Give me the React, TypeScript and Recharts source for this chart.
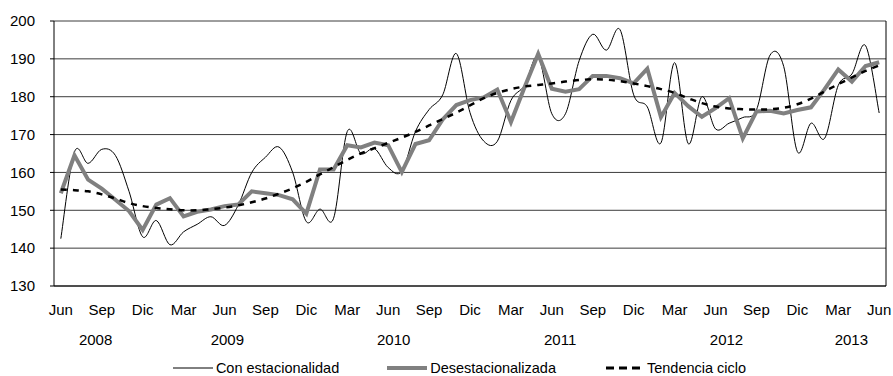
import React from "react";
import { ComposedChart, Line, XAxis, YAxis, CartesianGrid, Legend } from "recharts";

// categories: Jun 2008 .. Jun 2013
const monthNames = ["Ene", "Feb", "Mar", "Abr", "May", "Jun", "Jul", "Ago", "Sep", "Oct", "Nov", "Dic"];
const startYear = 2008;
const startMonth = 5; // Jun
const periodCount = 61;

const conEstacionalidad = [
  142.5, 165.4, 162.4, 166.1, 164.5, 155.0, 143.0, 147.3, 140.9, 144.3,
  146.3, 148.3, 146.0, 151.3, 160.0, 164.0, 166.7, 160.0, 147.0, 150.3,
  147.9, 170.8, 165.0, 166.3, 161.3, 160.3, 170.8, 176.6, 180.5, 191.4,
  175.8, 168.3, 168.2, 179.0, 183.0, 190.5, 175.5, 175.5, 189.5, 196.5,
  192.3, 197.7, 180.5, 177.3, 167.8, 189.0, 167.6, 180.0, 171.5, 173.0,
  174.5, 176.5, 191.0, 188.0, 165.5, 173.0, 169.0, 183.0, 186.0, 193.5,
  175.7,
];

const desestacionalizada = [
  154.5, 164.5, 158.1, 155.7, 152.8, 149.8, 144.8, 151.5, 153.2, 148.4,
  149.6, 150.2, 151.1, 151.5, 155.0, 154.5, 154.0, 152.9, 149.1, 160.8,
  160.8, 167.2, 166.6, 167.9, 167.2, 160.1, 167.5, 168.5, 174.0, 177.8,
  179.1, 179.8, 181.9, 173.3, 182.5, 191.3, 182.1, 181.3, 182.0, 185.5,
  185.5, 184.9, 183.5, 187.4, 174.6, 181.0, 177.5, 174.7, 177.0, 179.6,
  169.0, 176.1, 176.3, 175.6, 176.5, 177.2, 182.0, 187.2, 184.0, 188.1,
  189.1,
];

const tendenciaCiclo = [
  155.5, 155.3, 155.0, 154.2, 153.1, 151.9, 151.1, 150.6, 150.3, 150.0,
  150.0, 150.3, 150.7, 151.3, 152.1, 153.1, 154.4, 155.8, 157.5, 159.5,
  161.4, 163.3, 165.0, 166.4, 167.8, 169.2, 170.7, 172.4, 174.1, 175.8,
  177.7, 179.6, 181.0, 182.0, 182.7, 183.1, 183.5, 184.0, 184.4, 184.6,
  184.5, 184.1, 183.5, 182.8, 182.0, 181.0, 179.6, 178.3, 177.4, 176.9,
  176.7, 176.6, 176.7, 177.1, 178.0, 179.5, 181.4, 183.3, 185.1, 186.8,
  188.3,
];

const yTicks = [130, 140, 150, 160, 170, 180, 190, 200];

const periods = Array.from({ length: periodCount }, (_, i) => {
  const m = startMonth + i;
  return { key: `p${i}`, year: startYear + Math.floor(m / 12), month: monthNames[m % 12] };
});

const monthByKey: Record<string, string> = {};
periods.forEach((p) => (monthByKey[p.key] = p.month));

const data = periods.map((p, i) => ({
  key: p.key,
  con: conEstacionalidad[i],
  des: desestacionalizada[i],
  ten: tendenciaCiclo[i],
}));

// year labels sit in the middle of their months
const yearTicks = Array.from(new Set(periods.map((p) => p.year))).map((y) => {
  const idx = periods.map((p, i) => (p.year === y ? i : -1)).filter((i) => i >= 0);
  return { year: String(y), center: (idx[0] + idx[idx.length - 1]) / 2 };
});

// excel-like smoothed line (catmull-rom through every point)
const smoothCurve = (context: any) => {
  let pts: number[][] = [];
  return {
    areaStart() {},
    areaEnd() {},
    lineStart() {
      pts = [];
    },
    lineEnd() {
      if (!pts.length) return;
      context.moveTo(pts[0][0], pts[0][1]);
      for (let i = 0; i < pts.length - 1; i++) {
        const p0 = pts[Math.max(0, i - 1)];
        const p1 = pts[i];
        const p2 = pts[i + 1];
        const p3 = pts[Math.min(pts.length - 1, i + 2)];
        context.bezierCurveTo(
          p1[0] + (p2[0] - p0[0]) / 6,
          p1[1] + (p2[1] - p0[1]) / 6,
          p2[0] - (p3[0] - p1[0]) / 6,
          p2[1] - (p3[1] - p1[1]) / 6,
          p2[0],
          p2[1]
        );
      }
    },
    point(x: number, y: number) {
      pts.push([+x, +y]);
    },
  };
};

const font = "'Liberation Sans', Arial, sans-serif";
const tickStyle = { fontSize: 15, fill: "#000", fontFamily: font };

const LegendSample = ({ kind }: { kind: string }) => (
  <svg width={40} height={10} style={{ display: "block" }}>
    {kind === "con" && <line x1={0} y1={5} x2={40} y2={5} stroke="#000" strokeWidth={1} />}
    {kind === "des" && <line x1={0} y1={5} x2={40} y2={5} stroke="#808080" strokeWidth={4} />}
    {kind === "ten" && (
      <line x1={2} y1={5} x2={40} y2={5} stroke="#000" strokeWidth={3} strokeDasharray="8 5" />
    )}
  </svg>
);

const legendItems = [
  { kind: "con", label: "Con estacionalidad" },
  { kind: "des", label: "Desestacionalizada" },
  { kind: "ten", label: "Tendencia ciclo" },
];

const renderLegend = () => (
  <div
    style={{
      height: 30,
      boxSizing: "border-box",
      paddingTop: 14,
      paddingLeft: 32,
      display: "flex",
      justifyContent: "center",
      alignItems: "center",
      gap: 48,
      fontFamily: font,
      fontSize: 14.5,
      color: "#000",
    }}
  >
    {legendItems.map((it) => (
      <div key={it.kind} style={{ display: "flex", alignItems: "center", gap: 3 }}>
        <LegendSample kind={it.kind} />
        <span>{it.label}</span>
      </div>
    ))}
  </div>
);

export default function App() {
  return (
    <div style={{ position: "absolute", left: 0, top: 0, background: "#fff" }}>
      <ComposedChart width={893} height={376} data={data} margin={{ top: 21, right: 6, bottom: 0, left: 0 }}>
        <CartesianGrid vertical={false} stroke="#3c3c3c" strokeWidth={1} />
        <XAxis
          dataKey="key"
          scale="band"
          interval={2}
          height={30}
          tickLine={false}
          tickSize={0}
          tickMargin={18}
          tick={tickStyle}
          tickFormatter={(v: string) => monthByKey[v] ?? ""}
          axisLine={{ stroke: "#000" }}
        />
        <XAxis
          xAxisId="year"
          type="number"
          domain={[-0.5, periodCount - 0.5]}
          allowDataOverflow
          ticks={yearTicks.map((t) => t.center)}
          tickFormatter={(v: number) => yearTicks.find((t) => t.center === v)?.year ?? ""}
          height={30}
          axisLine={false}
          tickLine={false}
          tickSize={0}
          tickMargin={18.5}
          tick={tickStyle}
        />
        <YAxis
          domain={[130, 200]}
          ticks={yTicks}
          width={54}
          tickSize={4}
          tickMargin={15}
          tick={tickStyle}
          axisLine={{ stroke: "#000" }}
          tickLine={{ stroke: "#000" }}
          allowDataOverflow
        />
        <YAxis
          yAxisId="right"
          orientation="right"
          domain={[130, 200]}
          ticks={yTicks}
          allowDataOverflow
          width={1}
          tick={false}
          tickLine={false}
          axisLine={{ stroke: "#000" }}
        />
        <Legend verticalAlign="bottom" content={renderLegend} />
        <Line
          dataKey="con"
          name="Con estacionalidad"
          type={smoothCurve as any}
          stroke="#000"
          strokeWidth={1}
          dot={false}
          activeDot={false}
          isAnimationActive={false}
        />
        <Line
          dataKey="des"
          name="Desestacionalizada"
          type="linear"
          stroke="#808080"
          strokeWidth={4}
          dot={false}
          activeDot={false}
          isAnimationActive={false}
        />
        <Line
          yAxisId="right"
          dataKey="ten"
          name="Tendencia ciclo"
          type={smoothCurve as any}
          stroke="#000"
          strokeWidth={2.5}
          strokeDasharray="6 6"
          dot={false}
          activeDot={false}
          isAnimationActive={false}
        />
      </ComposedChart>
    </div>
  );
}
